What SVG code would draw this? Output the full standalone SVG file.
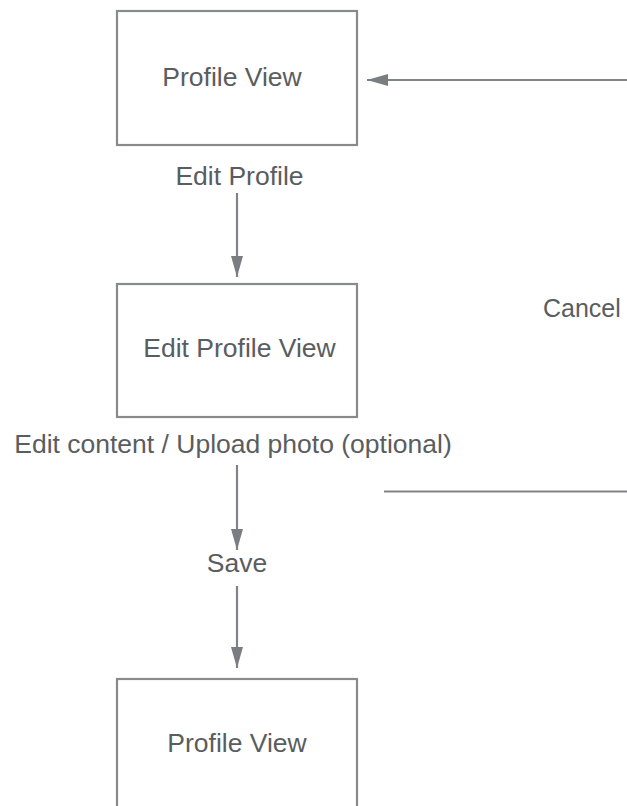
<svg xmlns="http://www.w3.org/2000/svg" width="627" height="806" viewBox="0 0 627 806">
<style>
.box{fill:#ffffff;stroke:#888a8c;stroke-width:2.2}
.t{font-family:"Liberation Sans",Arial,sans-serif;font-size:26.5px;fill:#5a5d60;text-anchor:middle}
.c{stroke:#808488;stroke-width:2.2;fill:none}
</style>
<defs>
<marker id="ah" markerUnits="userSpaceOnUse" markerWidth="22" markerHeight="13" refX="21" refY="6" orient="auto">
<path d="M0,0 L21,6 L0,12 z" fill="#7a7e82"/>
</marker>
</defs>
<rect width="627" height="806" fill="#ffffff"/>
<g id="node-profile-view-1">
<rect class="box" x="117" y="11" width="240" height="134"/>
<text class="t" x="232" y="86">Profile View</text>
</g>
<g id="node-edit-profile-view">
<rect class="box" x="117" y="284" width="240" height="133"/>
<text class="t" x="239.5" y="357">Edit Profile View</text>
</g>
<g id="node-profile-view-2">
<rect class="box" x="117" y="679" width="240" height="140"/>
<text class="t" x="237" y="752">Profile View</text>
</g>
<g id="connectors">
<line class="c" x1="237" y1="193" x2="237" y2="277" marker-end="url(#ah)"/>
<line class="c" x1="237" y1="465" x2="237" y2="550" marker-end="url(#ah)"/>
<line class="c" x1="237" y1="586" x2="237" y2="668" marker-end="url(#ah)"/>
<line class="c" x1="627" y1="80" x2="367" y2="80" marker-end="url(#ah)"/>
<line class="c" x1="384" y1="491.5" x2="627" y2="491.5"/>
<text class="t" x="239.5" y="185">Edit Profile</text>
<text class="t" x="233" y="453">Edit content / Upload photo (optional)</text>
<text class="t" x="237" y="572">Save</text>
<text class="t" x="543" y="317" style="text-anchor:start;font-size:25px">Cancel</text>
</g>
</svg>
